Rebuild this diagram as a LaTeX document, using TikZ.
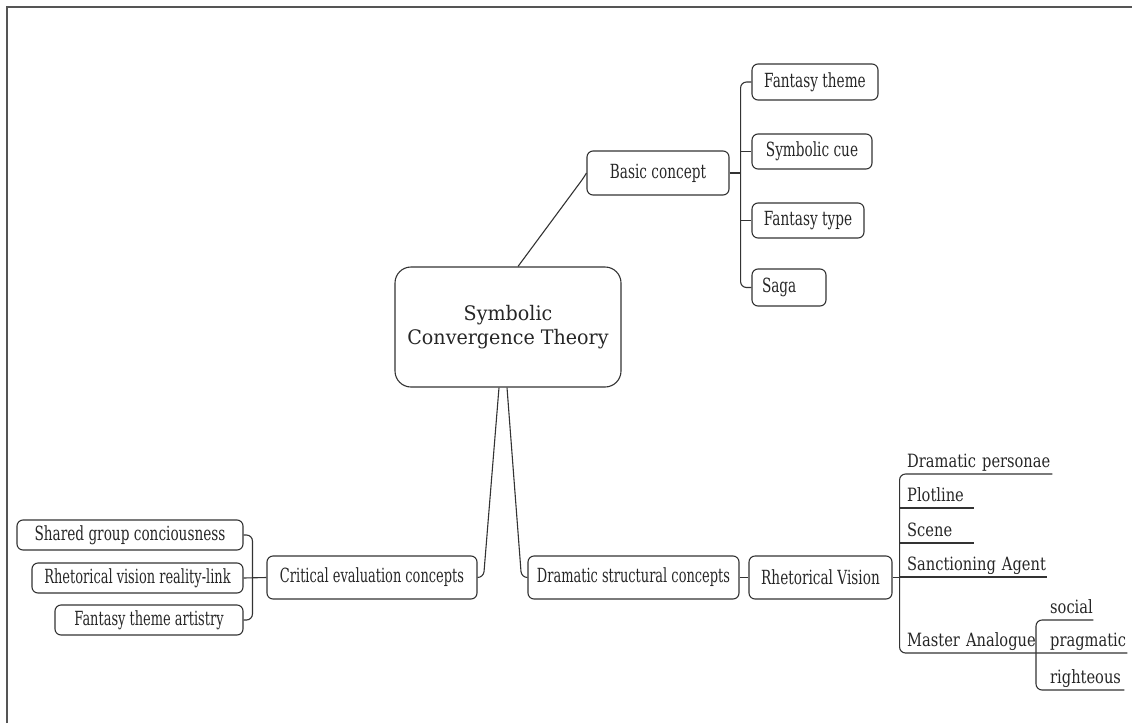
\documentclass[tikz,border=0pt]{standalone}
\usepackage{fontspec}
\setmainfont{DejaVu Serif}
\newfontfamily\boxfont{DejaVu Serif}[FakeStretch=0.70]
\newfontfamily\boxfontc{DejaVu Serif}[FakeStretch=0.665]
\newfontfamily\ulfont{DejaVu Serif}[FakeStretch=0.80]
\newfontfamily\cfont{DejaVu Serif}[FakeStretch=0.955]
\usetikzlibrary{calc}
\definecolor{linec}{HTML}{333333}
\definecolor{textc}{HTML}{262626}
\definecolor{framec}{HTML}{555555}
\begin{document}
\begin{tikzpicture}[x=1pt,y=-1pt]
\tikzset{
 box/.style={draw=linec, line width=1.1pt, rounded corners=6pt, text=textc, font=\boxfont\fontsize{19.5}{22}\selectfont, inner sep=0pt, align=center},
 boxc/.style={box, font=\boxfontc\fontsize{19.5}{22}\selectfont},
 ul/.style={anchor=south west, inner xsep=0pt, inner ysep=1pt, text=textc, font=\ulfont\fontsize{18.3}{22}\selectfont, align=left, text depth=5pt},
 conn/.style={draw=linec, line width=1.1pt},
}
\useasboundingbox (0,0) rectangle (1132,723);
\draw[draw=framec, line width=1.5pt] (7,723) -- (7,7) -- (1132,7);

\node[box, rounded corners=16pt, minimum width=226pt, minimum height=120pt, font=\cfont\fontsize{20}{24.5}\selectfont] (sct) at (508,327) {Symbolic\\Convergence Theory};
\node[box, minimum width=142pt, minimum height=44pt] (basic) at (658,173) {Basic concept};
\node[box, minimum width=126pt, minimum height=36pt] (ft) at (815,82) {Fantasy theme};
\node[box, minimum width=120pt, minimum height=35pt] (sc) at (812,151.5) {Symbolic cue};
\node[box, minimum width=112pt, minimum height=35pt] (fty) at (808,220.5) {Fantasy type};
\node[box, minimum width=74pt, minimum height=37pt, text width=54pt, align=left] (saga) at (789,287.5) {Saga};

\node[boxc, minimum width=210pt, minimum height=43pt] (crit) at (372,577.5) {Critical evaluation concepts};
\node[box, minimum width=226pt, minimum height=30pt] (shared) at (130,535) {Shared group conciousness};
\node[boxc, minimum width=211pt, minimum height=30pt] (rvrl) at (137.5,578) {Rhetorical vision reality-link};
\node[boxc, minimum width=188pt, minimum height=30pt] (fta) at (149,620) {Fantasy theme artistry};
\node[boxc, minimum width=211pt, minimum height=43pt] (dsc) at (633.5,577.5) {Dramatic structural concepts};
\node[box, minimum width=143pt, minimum height=43pt] (rv) at (820.5,577.5) {Rhetorical Vision};

\node[ul, text width=145pt] (dp) at (907,474) {\mbox{Dramatic personae}};
\node[ul, text width=67pt] (pl) at (907,508) {Plotline};
\node[ul, text width=67pt] (scn) at (907,543) {Scene};
\node[ul, text width=140pt] (sa) at (907,577) {\mbox{Sanctioning Agent}};
\node[ul, text width=129pt] (ma) at (907,653) {\mbox{Master Analogue}};
\node[ul, text width=43pt] (soc) at (1050,620) {social};
\node[ul, text width=77pt] (prag) at (1050,653) {pragmatic};
\node[ul, text width=74pt] (rig) at (1050,690) {righteous};

\coordinate (bt) at ($(basic.east)+(11,0)$);
\coordinate (ct) at ($(crit.west)+(-14,0)$);
\coordinate (rt) at ($(rv.east)+(7,0)$);
\coordinate (st) at ($(soc.south west)+(-14,0)$);

\draw[conn, rounded corners=5pt] ($(sct.north)+(10,0)$) -- ($(basic.west)+(-3,5)$) -- (basic.west);
\draw[conn, rounded corners=6pt] ($(sct.south)+(-9,0)$) -- ($(crit.east)+(6,0)$) -- (crit.east);
\draw[conn, rounded corners=6pt] ($(sct.south)+(-1,0)$) -- ($(dsc.west)+(-6,0)$) -- (dsc.west);

\draw[conn] (basic.east) -- (bt);
\draw[conn, rounded corners=6pt] (ft.west) -- (bt |- ft.west) -- (bt |- saga.west) -- (saga.west);
\draw[conn] (bt |- sc.west) -- (sc.west);
\draw[conn] (bt |- fty.west) -- (fty.west);

\draw[conn] (crit.west) -- (rvrl.east);
\draw[conn, rounded corners=6pt] (shared.east) -- (ct |- shared.east) -- (ct |- fta.east) -- (fta.east);

\draw[conn] (dsc.east) -- (rv.west);
\draw[conn] (rv.east) -- (rt);
\draw[conn, rounded corners=6pt] (dp.south east) -- (rt |- dp.south) -- (rt |- ma.south) -- (prag.south east);
\draw[conn] (rt |- pl.south) -- (pl.south east);
\draw[conn] (rt |- scn.south) -- (scn.south east);
\draw[conn] (rt |- sa.south) -- (sa.south east);
\draw[conn, rounded corners=6pt] (soc.south east) -- (st |- soc.south) -- (st |- rig.south) -- (rig.south east);
\end{tikzpicture}
\end{document}
